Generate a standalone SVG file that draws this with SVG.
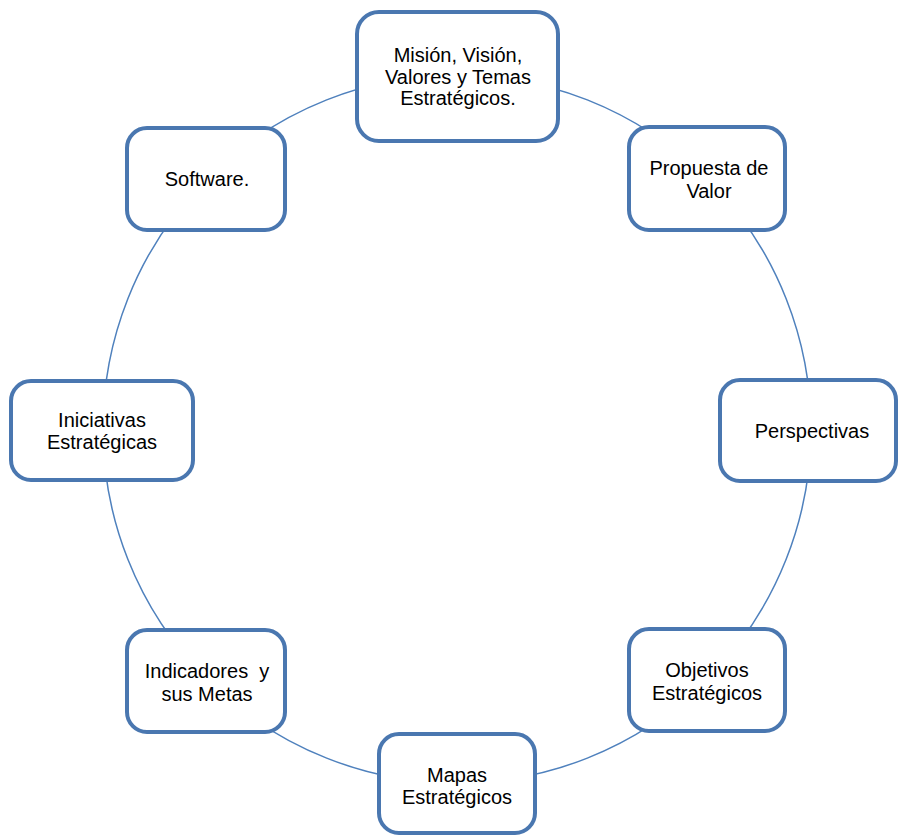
<svg xmlns="http://www.w3.org/2000/svg" width="898" height="836" viewBox="0 0 898 836">
<style>
.box{fill:#ffffff;stroke:#4a77b0;stroke-width:4}
.lbl{font-family:"Liberation Sans",Arial,sans-serif;font-size:20px;fill:#000000;text-anchor:middle}
.ring{fill:none;stroke:#4f81bd;stroke-width:1.5}
</style>
<rect width="898" height="836" fill="#ffffff"/>
<g id="connectors">
<circle class="ring" cx="457" cy="429" r="354"/>
</g>
<g id="node-mision">
<rect class="box" x="357" y="12" width="201" height="129" rx="22"/>
<text class="lbl" x="458" y="61.5">Misión, Visión,</text>
<text class="lbl" x="458" y="83.5">Valores y Temas</text>
<text class="lbl" x="458" y="105">Estratégicos.</text>
</g>
<g id="node-propuesta">
<rect class="box" x="629" y="127" width="156" height="103" rx="20"/>
<text class="lbl" x="709" y="175">Propuesta de</text>
<text class="lbl" x="709" y="198">Valor</text>
</g>
<g id="node-perspectivas">
<rect class="box" x="720" y="380" width="176" height="101" rx="20"/>
<text class="lbl" x="812" y="438">Perspectivas</text>
</g>
<g id="node-objetivos">
<rect class="box" x="629" y="629" width="156" height="102" rx="20"/>
<text class="lbl" x="707" y="677">Objetivos</text>
<text class="lbl" x="707" y="700">Estratégicos</text>
</g>
<g id="node-mapas">
<rect class="box" x="379" y="734" width="156" height="99" rx="20"/>
<text class="lbl" x="457" y="782">Mapas</text>
<text class="lbl" x="457" y="804">Estratégicos</text>
</g>
<g id="node-indicadores">
<rect class="box" x="127" y="630" width="158" height="102" rx="20"/>
<text class="lbl" x="207" y="678" xml:space="preserve">Indicadores  y</text>
<text class="lbl" x="207" y="700.5">sus Metas</text>
</g>
<g id="node-iniciativas">
<rect class="box" x="11" y="381" width="182" height="99" rx="20"/>
<text class="lbl" x="102" y="426.5">Iniciativas</text>
<text class="lbl" x="102" y="448.5">Estratégicas</text>
</g>
<g id="node-software">
<rect class="box" x="127" y="128" width="158" height="102" rx="20"/>
<text class="lbl" x="207" y="186">Software.</text>
</g>
</svg>
